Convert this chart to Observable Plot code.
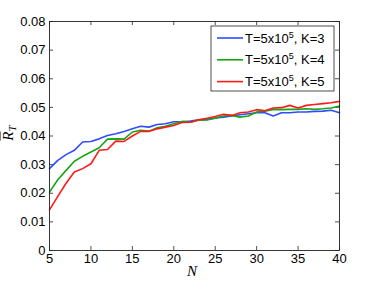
<!DOCTYPE html>
<html>
<head>
<meta charset="utf-8">
<script src="https://cdn.jsdelivr.net/npm/d3@7"></script>
<script src="https://cdn.jsdelivr.net/npm/@observablehq/plot@0.6"></script>
<style>
  html, body { margin: 0; padding: 0; background: #fff; }
</style>
</head>
<body>
<div id="chart"></div>
<script>
const nValues = d3.range(5, 41);
const seriesNames = ["K=3", "K=4", "K=5"];
const seriesColors = ["#2f4cff", "#14a614", "#ff1a1a"];
const legendPrefix = "T=5x10";
const legendSup = "5";
const k3Values = [0.0286,0.0315,0.0335,0.0350,0.0379,0.0381,0.0390,0.0402,0.0408,0.0416,0.0425,0.0434,0.0431,0.0440,0.0443,0.0450,0.0450,0.0452,0.0457,0.0458,0.0463,0.0466,0.0470,0.0474,0.0478,0.0481,0.0481,0.0470,0.0481,0.0481,0.0484,0.0484,0.0486,0.0487,0.0490,0.0481];
const k4Values = [0.0204,0.0247,0.0280,0.0312,0.0329,0.0344,0.0359,0.0389,0.0390,0.0389,0.0414,0.0420,0.0417,0.0429,0.0434,0.0443,0.0451,0.0448,0.0455,0.0456,0.0462,0.0470,0.0472,0.0466,0.0470,0.0484,0.0487,0.0493,0.0492,0.0493,0.0493,0.0495,0.0493,0.0495,0.0498,0.0505];
const k5Values = [0.0142,0.0189,0.0235,0.0274,0.0286,0.0303,0.0350,0.0353,0.0382,0.0381,0.0400,0.0416,0.0416,0.0425,0.0431,0.0437,0.0447,0.0448,0.0457,0.0462,0.0468,0.0476,0.0472,0.0481,0.0484,0.0492,0.0488,0.0498,0.0499,0.0507,0.0498,0.0507,0.0510,0.0513,0.0516,0.0521];
const xTicks = [5, 10, 15, 20, 25, 30, 35, 40];
const yTicks = [0, 0.01, 0.02, 0.03, 0.04, 0.05, 0.06, 0.07, 0.08];

const allSeries = [k3Values, k4Values, k5Values];
const data = [];
allSeries.forEach((vals, i) => vals.forEach((v, j) => data.push({N: nValues[j], R: v, series: seriesNames[i]})));

const W = 374, H = 282;
const mL = 49, mR = 35, mT = 21, mB = 32;
const plotW = W - mL - mR, plotH = H - mT - mB;
const tk = 4;

const chart = Plot.plot({
  width: W, height: H,
  marginLeft: mL, marginRight: mR, marginTop: mT, marginBottom: mB,
  style: {fontFamily: "'Liberation Sans', Arial, sans-serif", fontSize: "13px", background: "#fff", color: "#000"},
  x: {domain: [5, 40]},
  y: {domain: [0, 0.08]},
  color: {domain: seriesNames, range: seriesColors},
  marks: [
    Plot.tickX(xTicks, {x: d => d, insetTop: plotH - tk, stroke: "#222", strokeWidth: 0.8}),
    Plot.tickX(xTicks, {x: d => d, insetBottom: plotH - tk, stroke: "#222", strokeWidth: 0.8}),
    Plot.tickY(yTicks, {y: d => d, insetRight: plotW - tk, stroke: "#222", strokeWidth: 0.8}),
    Plot.tickY(yTicks, {y: d => d, insetLeft: plotW - tk, stroke: "#222", strokeWidth: 0.8}),
    Plot.line(data, {x: "N", y: "R", stroke: "series", strokeWidth: 1.6}),
    Plot.frame({stroke: "#222", strokeWidth: 0.9}),
    Plot.axisX(xTicks, {tickSize: 0, tickPadding: 3, label: null, fontSize: 13}),
    Plot.axisY(yTicks, {tickSize: 0, tickPadding: 4, label: null, fontSize: 13, tickFormat: d => d === 0 ? "0" : d.toFixed(2)})
  ]
});

const svg = d3.select(chart);
// axis labels
svg.append("text")
  .attr("x", 192).attr("y", 276)
  .attr("text-anchor", "middle")
  .style("font-family", "'Liberation Serif', 'DejaVu Serif', serif")
  .style("font-style", "italic").style("font-size", "15px")
  .text("N");
const yl = svg.append("text")
  .attr("transform", "translate(13,133) rotate(-90)")
  .attr("text-anchor", "middle")
  .style("font-family", "'Liberation Serif', 'DejaVu Serif', serif")
  .style("font-style", "italic").style("font-size", "15px");
yl.append("tspan").style("text-decoration", "overline").text("R");
yl.append("tspan").attr("dy", 3).style("font-size", "11px").text("T");

// legend
const lg = svg.append("g").attr("text-anchor", "start");
lg.append("rect").attr("x", 211).attr("y", 26).attr("width", 123).attr("height", 65)
  .attr("fill", "#fff").attr("stroke", "#222").attr("stroke-width", 0.8);
seriesNames.forEach((name, i) => {
  const y = 38 + i * 21.8;
  lg.append("path").attr("d", `M217,${y}H243`)
    .attr("fill", "none")
    .attr("stroke", seriesColors[i]).attr("stroke-width", 1.6);
  const t = lg.append("text").attr("x", 245).attr("y", y + 4.5).attr("text-anchor", "start")
    .style("font-family", "'Liberation Sans', Arial, sans-serif").style("font-size", "13px");
  t.append("tspan").text(legendPrefix);
  t.append("tspan").attr("dy", -5).style("font-size", "9px").text(legendSup);
  t.append("tspan").attr("dy", 5).text(", " + name);
});

document.getElementById("chart").appendChild(chart);
</script>
</body>
</html>
